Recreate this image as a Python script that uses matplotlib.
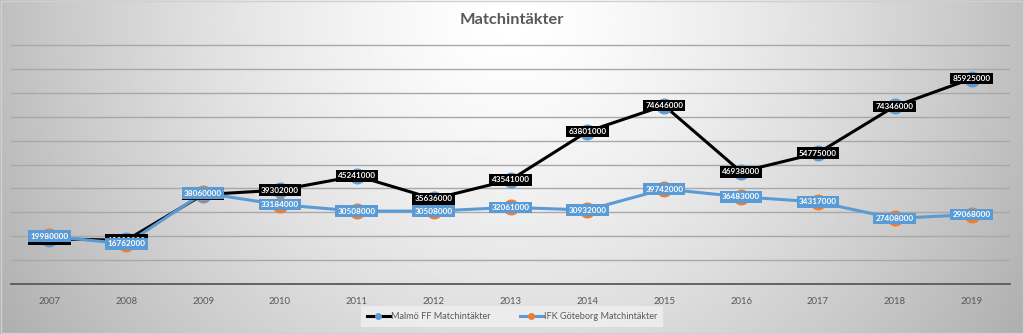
import numpy as np
import matplotlib
matplotlib.use("Agg")
import matplotlib.pyplot as plt
from matplotlib.lines import Line2D

years = ["2007", "2008", "2009", "2010", "2011", "2012", "2013",
         "2014", "2015", "2016", "2017", "2018", "2019"]
malmo = [18900000, 18300000, 37400000, 39302000, 45241000, 35636000, 43541000,
         63801000, 74646000, 46938000, 54775000, 74346000, 85925000]
gbg = [19980000, 16762000, 38060000, 33184000, 30508000, 30508000, 32061000,
       30932000, 39742000, 36483000, 34317000, 27408000, 29068000]
malmo_name = "Malmö FF Matchintäkter"
gbg_name = "IFK Göteborg Matchintäkter"
title = "Matchintäkter"

BLUE = "#5B9BD5"
ORANGE = "#ED7D31"
TXT = "#595959"
FONT = ["Lato", "DejaVu Sans"]

W, H = 1024, 334
fig = plt.figure(figsize=(W / 100, H / 100), dpi=100)

# background radial gradient
bg = fig.add_axes([0, 0, 1, 1], zorder=-10)
xx, yy = np.meshgrid(np.linspace(0, 1, 400), np.linspace(1, 0, 140))
d = np.sqrt(((xx - 0.5) / 0.5) ** 2 + ((yy - 0.95) / 1.5) ** 2)
g = 1 - 0.25 * np.clip(d, 0, 1.3) ** 1.4
bg.imshow(g, cmap="gray", vmin=0, vmax=1, aspect="auto", extent=[0, 1, 0, 1],
          interpolation="bilinear")
bg.set_xlim(0, 1)
bg.set_ylim(0, 1)
bg.axis("off")
bg.add_patch(plt.Rectangle((0.0005, 0.0015), 0.999, 0.997, fill=False,
                           ec="#d0d0d0", lw=1))

ymax = 102e6
px_per = (284 - 45) / 100e6
top_px = 284 - ymax * px_per
ax = fig.add_axes([11 / W, (H - 284) / H, (1010 - 11) / W, (284 - top_px) / H])
ax.set_facecolor("none")
x = np.arange(len(years))
ax.set_xlim(-0.5, len(years) - 0.5)
ax.set_ylim(0, ymax)
ax.set_yticks(np.arange(10e6, 100e6 + 1, 10e6))
ax.yaxis.grid(True, color="#a8a8a8", lw=1.0)
ax.set_axisbelow(True)
ax.tick_params(axis="y", left=False, labelleft=False)
ax.set_xticks(x)
ax.set_xticklabels(years, fontsize=6.8, color=TXT, family=FONT)
ax.tick_params(axis="x", bottom=False, pad=6)
for s in ["top", "right", "left"]:
    ax.spines[s].set_visible(False)
ax.spines["bottom"].set_color("#595959")
ax.spines["bottom"].set_linewidth(1.3)

ax.plot(x, malmo, color="black", lw=2.2, marker="o", ms=10.5, mfc=BLUE, mec=BLUE,
        zorder=3)
ax.plot(x, gbg, color=BLUE, lw=2.2, marker="o", ms=10.5, mfc=ORANGE, mec=ORANGE,
        zorder=4)

for xi, v in zip(x, malmo):
    ax.text(xi, v, f"{v}", ha="center", va="center", fontsize=5.9, color="white",
            weight="bold", family=FONT, zorder=5,
            bbox=dict(boxstyle="square,pad=0.28", fc="black", ec="none"))
for xi, v in zip(x, gbg):
    ax.text(xi, v, f"{v}", ha="center", va="center", fontsize=5.9, color="white",
            weight="bold", family=FONT, zorder=6,
            bbox=dict(boxstyle="square,pad=0.28", fc=BLUE, ec="none"))

fig.text(0.5, (H - 20) / H, title, ha="center", va="center", fontsize=11.8,
         weight="bold", color=TXT, family=FONT)

handles = [Line2D([], [], color="black", lw=2.2, marker="o", ms=4, mfc=BLUE, mec=BLUE),
           Line2D([], [], color=BLUE, lw=2.2, marker="o", ms=4, mfc=ORANGE, mec=ORANGE)]
leg = fig.legend(handles, [malmo_name, gbg_name], loc="center",
                 bbox_to_anchor=(0.5, (H - 316.5) / H), ncol=2, frameon=True,
                 fancybox=False, facecolor="#f0f0f0", edgecolor="none",
                 prop=dict(family=FONT, size=6.6), handlelength=2.5,
                 columnspacing=3.2, borderpad=0.7, handletextpad=0.1)
for t in leg.get_texts():
    t.set_color(TXT)

fig.savefig("out.png", dpi=100)
